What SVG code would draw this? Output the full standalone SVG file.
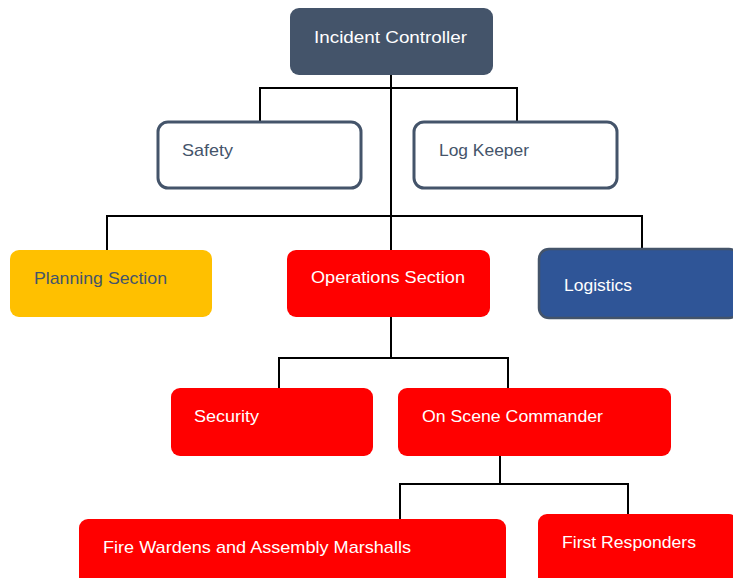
<svg xmlns="http://www.w3.org/2000/svg" width="733" height="578" viewBox="0 0 733 578">
<style>
text{font-family:"Liberation Sans",Arial,sans-serif;font-size:17px}
.w{fill:#ffffff}
.d{fill:#44546a}
.red{fill:#ff0000}
.c{fill:none;stroke:#000;stroke-width:2}
</style>
<rect width="733" height="578" fill="#ffffff"/>
<g id="connectors" class="c">
<path d="M391 75V216M260 121V88H517V121M107 250V216H642V248M391 216V250"/>
<path d="M391 317V358M279 389V358H508V389"/>
<path d="M500 456V484M400 519V484H628V514"/>
</g>
<g id="incident-controller">
<rect x="290" y="8" width="203" height="67" rx="9" fill="#44546a"/>
<text x="314" y="43" class="w" textLength="153" lengthAdjust="spacingAndGlyphs">Incident Controller</text>
</g>
<g id="safety">
<rect x="158" y="122" width="203" height="66" rx="10" fill="#fff" stroke="#44546a" stroke-width="3"/>
<text x="182" y="156" class="d" textLength="51" lengthAdjust="spacingAndGlyphs">Safety</text>
</g>
<g id="log-keeper">
<rect x="414" y="122" width="203" height="66" rx="10" fill="#fff" stroke="#44546a" stroke-width="3"/>
<text x="439" y="156" class="d" textLength="90" lengthAdjust="spacingAndGlyphs">Log Keeper</text>
</g>
<g id="planning">
<rect x="10" y="250" width="202" height="67" rx="9" fill="#ffc000"/>
<text x="34" y="284" class="d" textLength="133" lengthAdjust="spacingAndGlyphs">Planning Section</text>
</g>
<g id="operations">
<rect x="287" y="250" width="203" height="67" rx="9" class="red"/>
<text x="311" y="283" class="w" textLength="154" lengthAdjust="spacingAndGlyphs">Operations Section</text>
</g>
<g id="logistics">
<rect x="539" y="249" width="200" height="69" rx="10" fill="#2f5597" stroke="#44546a" stroke-width="2.5"/>
<text x="564" y="291" class="w" textLength="68" lengthAdjust="spacingAndGlyphs">Logistics</text>
</g>
<g id="security">
<rect x="171" y="388" width="202" height="68" rx="9" class="red"/>
<text x="194" y="422" class="w" textLength="65" lengthAdjust="spacingAndGlyphs">Security</text>
</g>
<g id="on-scene-commander">
<rect x="398" y="388" width="273" height="68" rx="9" class="red"/>
<text x="422" y="422" class="w" textLength="181" lengthAdjust="spacingAndGlyphs">On Scene Commander</text>
</g>
<g id="fire-wardens">
<rect x="79" y="519" width="427" height="70" rx="9" class="red"/>
<text x="103" y="553" class="w" textLength="308" lengthAdjust="spacingAndGlyphs">Fire Wardens and Assembly Marshalls</text>
</g>
<g id="first-responders">
<rect x="538" y="514" width="200" height="75" rx="9" class="red"/>
<text x="562" y="548" class="w" textLength="134" lengthAdjust="spacingAndGlyphs">First Responders</text>
</g>
</svg>
